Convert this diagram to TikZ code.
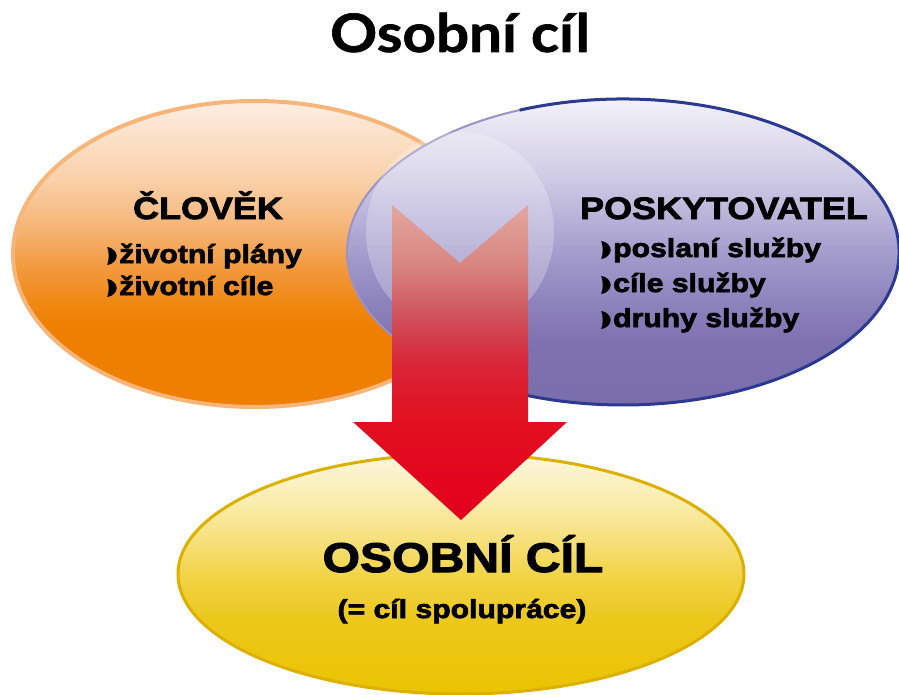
\documentclass[tikz,border=0pt]{standalone}
\usepackage{fontspec}
\setmainfont{Liberation Sans}
\newfontfamily\boxfont{Liberation Sans}[FakeStretch=1.16, BoldFeatures={FakeBold=2.6}]
\newfontfamily\titlefont{Lato}[FakeStretch=1.1, BoldFeatures={FakeBold=1.2}]
\usetikzlibrary{shapes.geometric}

% orange oval
\definecolor{orTop}{HTML}{FDEEE2}
\definecolor{orPale}{HTML}{F9D0A8}
\definecolor{orSoft}{HTML}{F6BB82}
\definecolor{orMid}{HTML}{F29A40}
\definecolor{orWarm}{HTML}{EF8813}
\definecolor{orDeep}{HTML}{EE7F00}
\definecolor{orRim}{HTML}{F7B57A}
% purple oval
\definecolor{puTop}{HTML}{F3F1F8}
\definecolor{puPale}{HTML}{CFCAE5}
\definecolor{puLight}{HTML}{B3ACD5}
\definecolor{puMid}{HTML}{A098C9}
\definecolor{puDeep}{HTML}{8E84BD}
\definecolor{puDark}{HTML}{7E72B0}
\definecolor{puBase}{HTML}{7A6DAB}
\definecolor{puRim}{HTML}{2B3990}
\definecolor{puSoftRim}{HTML}{9B93C6}
% yellow oval
\definecolor{yeTop}{HTML}{FDF7DC}
\definecolor{yePale}{HTML}{FAEDB0}
\definecolor{yeSoft}{HTML}{F6E07A}
\definecolor{yeMid}{HTML}{F1D448}
\definecolor{yeDeep}{HTML}{ECC81C}
\definecolor{yeBase}{HTML}{EAC400}
\definecolor{yeRim}{HTML}{DDB000}
% red arrow
\definecolor{reTop}{HTML}{E2A79F}
\definecolor{reSoft}{HTML}{D98580}
\definecolor{reMid}{HTML}{CF5760}
\definecolor{reWarm}{HTML}{D8283A}
\definecolor{reDeep}{HTML}{E2101F}
\definecolor{reBase}{HTML}{E3001E}

\pgfdeclareverticalshading{orangeglow}{100bp}{color(0bp)=(orDeep); color(38bp)=(orDeep); color(42bp)=(orWarm); color(48bp)=(orMid); color(56bp)=(orSoft); color(62bp)=(orPale); color(75bp)=(orTop); color(100bp)=(orTop)}
\pgfdeclareverticalshading{purpleglow}{100bp}{color(0bp)=(puBase); color(25bp)=(puBase); color(35.6bp)=(puDark); color(42bp)=(puDeep); color(48.6bp)=(puMid); color(54bp)=(puLight); color(62bp)=(puPale); color(75bp)=(puTop); color(100bp)=(puTop)}
\pgfdeclareverticalshading{yellowglow}{100bp}{color(0bp)=(yeBase); color(25bp)=(yeBase); color(40.6bp)=(yeDeep); color(50bp)=(yeMid); color(57bp)=(yeSoft); color(65.5bp)=(yePale); color(75bp)=(yeTop); color(100bp)=(yeTop)}
\pgfdeclareverticalshading{arrowred}{100bp}{color(0bp)=(reBase); color(25bp)=(reBase); color(40.9bp)=(reDeep); color(50.4bp)=(reWarm); color(58.3bp)=(reMid); color(65.5bp)=(reSoft); color(75bp)=(reTop); color(100bp)=(reTop)}

% small black bullet in front of list entries
\newcommand\itemmark{\tikz[baseline=0pt]\fill[black] (0.5pt,-2pt) .. controls (6pt,-1.5pt) and (10pt,3pt) .. (10pt,7pt) .. controls (10pt,11pt) and (6pt,15.5pt) .. (0.5pt,16pt) .. controls (2.5pt,11pt) and (2.5pt,3pt) .. cycle;\hspace{2.5pt}}

\tikzset{
  blob/.style={ellipse, inner sep=0pt, outer sep=0pt, shading angle=0},
  headtext/.style={font=\boxfont\bfseries\fontsize{31}{31}\selectfont, inner sep=0pt, anchor=base},
  itemtext/.style={font=\boxfont\bfseries\fontsize{26}{26}\selectfont, inner sep=0pt, anchor=base west},
  goaltext/.style={font=\boxfont\bfseries\fontsize{41.5}{41.5}\selectfont, inner sep=0pt, anchor=base},
  subtext/.style={font=\boxfont\bfseries\fontsize{26}{26}\selectfont, inner sep=0pt, anchor=base},
}

\begin{document}
\begin{tikzpicture}[x=1pt, y=-1pt]
\fill[white] (0,0) rectangle (899,695);
\useasboundingbox (0,0) rectangle (899,695);

% title
\node[font=\titlefont\bfseries\fontsize{53}{53}\selectfont, inner sep=0pt, anchor=base] (title) at (460,52) {Osobní cíl};

% person oval
\node[blob, minimum width=484pt, minimum height=306pt, shading=orangeglow, draw=orRim, line width=4pt] (humanoval) at (255,254) {};

% provider oval with a soft left rim and a dark right rim
\node[blob, minimum width=552pt, minimum height=306pt, shading=purpleglow, draw=puSoftRim, line width=2pt] (provoval) at (623,252) {};
\fill[white, fill opacity=0.25] (460,232) ellipse [x radius=94pt, y radius=100pt];
\draw[puRim, line width=3pt] ([shift={(112:276pt and 153pt)}]provoval.center) arc[start angle=112, end angle=-121, x radius=276pt, y radius=153pt];

% goal oval
\node[blob, minimum width=566pt, minimum height=240pt, shading=yellowglow, draw=yeRim, line width=3pt] (goaloval) at (461,574) {};

% block arrow from the two ovals into the goal
\shade[shading=arrowred, shading angle=0] (392,205) -- (460,263) -- (528,205) -- (528,422) -- (567,422) -- (461,520) -- (353,422) -- (392,422) -- cycle;

% person texts
\node[headtext] (humanhead) at (208,219) {ČLOVĚK};
\node[itemtext] (humanA) at (107,263) {\itemmark životní plány};
\node[itemtext] (humanB) at (107,295) {\itemmark životní cíle};

% provider texts
\node[headtext] (provhead) at (724,219) {POSKYTOVATEL};
\node[itemtext] (provA) at (601,257) {\itemmark poslaní služby};
\node[itemtext] (provB) at (601,292) {\itemmark cíle služby};
\node[itemtext] (provC) at (601,327) {\itemmark druhy služby};

% goal texts
\node[goaltext] (goalhead) at (463,572) {OSOBNÍ CÍL};
\node[subtext] (goalsub) at (462,618) {(= cíl spolupráce)};
\end{tikzpicture}
\end{document}
